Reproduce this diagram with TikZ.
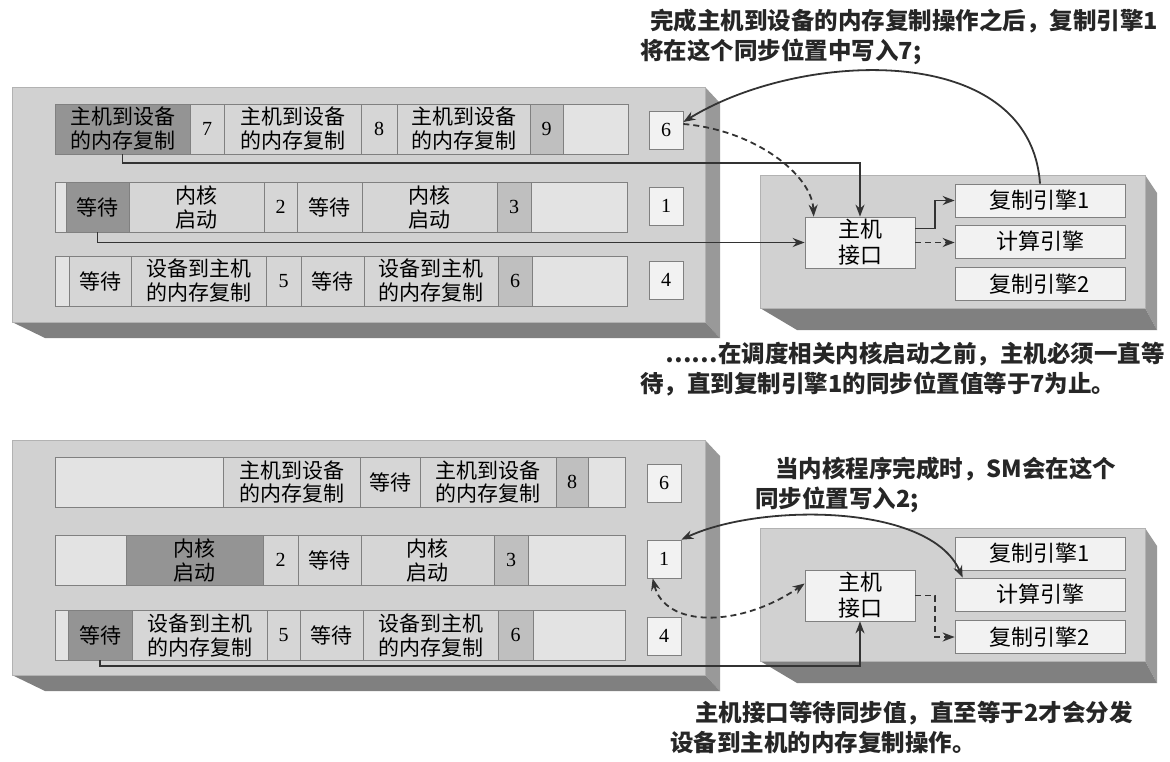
\documentclass[tikz,border=0pt]{standalone}
\usepackage{fontspec}
\setmainfont{Liberation Serif}
\newfontfamily\cjk{Noto Sans CJK SC}
\usetikzlibrary{arrows.meta}

\tikzset{
  face/.style={fill=black!18, draw=black!30, line width=0.6pt},
  side/.style={fill=black!40},
  under/.style={fill=black!50},
  cell/.style={draw=black!50, line width=0.7pt, minimum height=50pt, inner sep=0pt,
    outer sep=0pt, anchor=west, align=center, font=\cjk\fontsize{21}{24}\selectfont},
  blank/.style={cell, fill=black!11},
  lt/.style={cell, fill=black!16},
  md/.style={cell, fill=black!25},
  dk/.style={cell, fill=black!42},
  wd/.style={minimum width=#1pt},
  num/.style={font=\fontsize{20}{22}\selectfont},
  sync/.style={draw=black!50, fill=black!5, line width=0.7pt, minimum width=34pt,
    minimum height=38pt, inner sep=0pt, font=\fontsize{20}{22}\selectfont},
  unit/.style={draw=black!50, fill=black!5, line width=0.7pt, inner sep=0pt,
    align=center, font=\cjk\fontsize{22}{26}\selectfont},
  note/.style={anchor=west, align=left, inner sep=0pt, text=black!85,
    font=\cjk\bfseries\fontsize{23.5}{30}\selectfont},
  link/.style={line width=1.8pt, draw=black!80, ->},
  dlink/.style={link, dash pattern=on 6pt off 4pt}
}

\begin{document}
\begin{tikzpicture}[x=1pt, y=-1pt, >={Stealth[length=12pt,width=9pt]}]
\useasboundingbox (0,0) rectangle (1170,761);

% upper half: host stream panel and device panel
\fill[side] (705,87) -- (720,103) -- (720,338) -- (705,322) -- cycle;
\fill[under] (12,322) -- (705,322) -- (720,338) -- (45,338) -- cycle;
\draw[face] (12,87) rectangle (705,322);
\fill[side] (1145,175) -- (1157,193) -- (1157,330) -- (1145,308) -- cycle;
\fill[under] (760,308) -- (1145,308) -- (1157,330) -- (797,330) -- cycle;
\draw[face] (760,175) rectangle (1145,308);

% stream 1
\node[dk, wd=135] (t1a) at (55,129) {主机到设备\\的内存复制};
\node[lt, wd=34, num] (t1b) at (t1a.east) {7};
\node[lt, wd=137] (t1c) at (t1b.east) {主机到设备\\的内存复制};
\node[lt, wd=36, num] (t1d) at (t1c.east) {8};
\node[lt, wd=133] (t1e) at (t1d.east) {主机到设备\\的内存复制};
\node[md, wd=33, num] (t1f) at (t1e.east) {9};
\node[blank, wd=65] (t1g) at (t1f.east) {};
% stream 2
\node[blank, wd=11] (t2a) at (55,207) {};
\node[dk, wd=63] (t2b) at (t2a.east) {等待};
\node[lt, wd=135] (t2c) at (t2b.east) {内核\\启动};
\node[lt, wd=33, num] (t2d) at (t2c.east) {2};
\node[lt, wd=65] (t2e) at (t2d.east) {等待};
\node[lt, wd=135] (t2f) at (t2e.east) {内核\\启动};
\node[md, wd=34, num] (t2g) at (t2f.east) {3};
\node[blank, wd=96] (t2h) at (t2g.east) {};
% stream 3
\node[blank, wd=14] (t3a) at (55,281) {};
\node[lt, wd=62] (t3b) at (t3a.east) {等待};
\node[lt, wd=135] (t3c) at (t3b.east) {设备到主机\\的内存复制};
\node[lt, wd=35, num] (t3d) at (t3c.east) {5};
\node[lt, wd=63] (t3e) at (t3d.east) {等待};
\node[lt, wd=134] (t3f) at (t3e.east) {设备到主机\\的内存复制};
\node[md, wd=34, num] (t3g) at (t3f.east) {6};
\node[blank, wd=95] (t3h) at (t3g.east) {};

\node[sync] (ts6) at (666,130) {6};
\node[sync] (ts1) at (666,206) {1};
\node[sync] (ts4) at (666,280) {4};

\node[unit, minimum width=110pt, minimum height=51pt] (th) at (860,242.5) {主机\\接口};
\node[unit, minimum width=170pt, minimum height=33pt] (te1) at (1040,200.5) {复制引擎1};
\node[unit, minimum width=170pt, minimum height=33pt] (te2) at (1040,241.5) {计算引擎};
\node[unit, minimum width=170pt, minimum height=33pt] (te3) at (1040,284) {复制引擎2};

\draw[link] (t1a.south) -- ++(0,9) -| (th.north);
\draw[link] (t2b.south) |- (th.west);
\draw[link] ([yshift=14pt]th.east) -- ++(20,0) |- (te1.west);
\draw[dlink] (th.east) -- (th.east -| te2.west);
\draw[link] (te1.north) .. controls (1030,40) and (800,50) .. ([yshift=8pt]ts6.east);
\draw[dlink] ([yshift=6pt]ts6.east) .. controls (755,130) and (812,175) .. ([xshift=9pt]th.north west);

% lower half
\begin{scope}[yshift=-353pt]
\fill[side] (705,87) -- (720,103) -- (720,338) -- (705,322) -- cycle;
\fill[under] (12,322) -- (705,322) -- (720,338) -- (45,338) -- cycle;
\draw[face] (12,87) rectangle (705,322);
\fill[side] (1145,175) -- (1157,193) -- (1157,330) -- (1145,308) -- cycle;
\fill[under] (760,308) -- (1145,308) -- (1157,330) -- (797,330) -- cycle;
\draw[face] (760,175) rectangle (1145,308);

\node[blank, wd=168] (b1a) at (55,129) {};
\node[lt, wd=137] (b1b) at (b1a.east) {主机到设备\\的内存复制};
\node[lt, wd=60] (b1c) at (b1b.east) {等待};
\node[lt, wd=136] (b1d) at (b1c.east) {主机到设备\\的内存复制};
\node[md, wd=32, num] (b1e) at (b1d.east) {8};
\node[blank, wd=37] (b1f) at (b1e.east) {};

\node[blank, wd=71] (b2a) at (55,207) {};
\node[dk, wd=137] (b2b) at (b2a.east) {内核\\启动};
\node[lt, wd=35, num] (b2c) at (b2b.east) {2};
\node[lt, wd=63] (b2d) at (b2c.east) {等待};
\node[lt, wd=133] (b2e) at (b2d.east) {内核\\启动};
\node[md, wd=34, num] (b2f) at (b2e.east) {3};
\node[blank, wd=97] (b2g) at (b2f.east) {};

\node[blank, wd=13] (b3a) at (55,282) {};
\node[dk, wd=64] (b3b) at (b3a.east) {等待};
\node[lt, wd=135] (b3c) at (b3b.east) {设备到主机\\的内存复制};
\node[lt, wd=33, num] (b3d) at (b3c.east) {5};
\node[lt, wd=63] (b3e) at (b3d.east) {等待};
\node[lt, wd=135] (b3f) at (b3e.east) {设备到主机\\的内存复制};
\node[md, wd=35, num] (b3g) at (b3f.east) {6};
\node[blank, wd=92] (b3h) at (b3g.east) {};

\node[sync] (bs6) at (664,130) {6};
\node[sync] (bs1) at (664,206) {1};
\node[sync] (bs4) at (664,283) {4};

\node[unit, minimum width=110pt, minimum height=51pt] (bh) at (860,242.5) {主机\\接口};
\node[unit, minimum width=170pt, minimum height=33pt] (be1) at (1040,200.5) {复制引擎1};
\node[unit, minimum width=170pt, minimum height=33pt] (be2) at (1040,241.5) {计算引擎};
\node[unit, minimum width=170pt, minimum height=33pt] (be3) at (1040,284) {复制引擎2};

\draw[link, <->] (bs1.north east) .. controls (760,150) and (930,150) .. ([xshift=8pt]be2.north west);
\draw[dlink, <->] ([xshift=6pt]bs1.south west) .. controls (665,275) and (740,275) .. ([yshift=12pt]bh.west);
\draw[dlink] (bh.east) -- ++(20,0) |- (be3.west);
\draw[link] (b3b.south) -- ++(0,6) -| (bh.south);
\end{scope}

% notes
\node[note] (n1) at (640,37) {\hspace*{10pt}完成主机到设备的内存复制操作之后，复制引擎1\\将在这个同步位置中写入7;};
\node[note] (n2) at (640,369) {\hspace*{25pt}……在调度相关内核启动之前，主机必须一直等\\待，直到复制引擎1的同步位置值等于7为止。};
\node[note] (n3) at (755,485) {\hspace*{20pt}当内核程序完成时，SM会在这个\\同步位置写入2;};
\node[note] (n4) at (670,727) {\hspace*{25pt}主机接口等待同步值，直至等于2才会分发\\设备到主机的内存复制操作。};
\end{tikzpicture}
\end{document}
